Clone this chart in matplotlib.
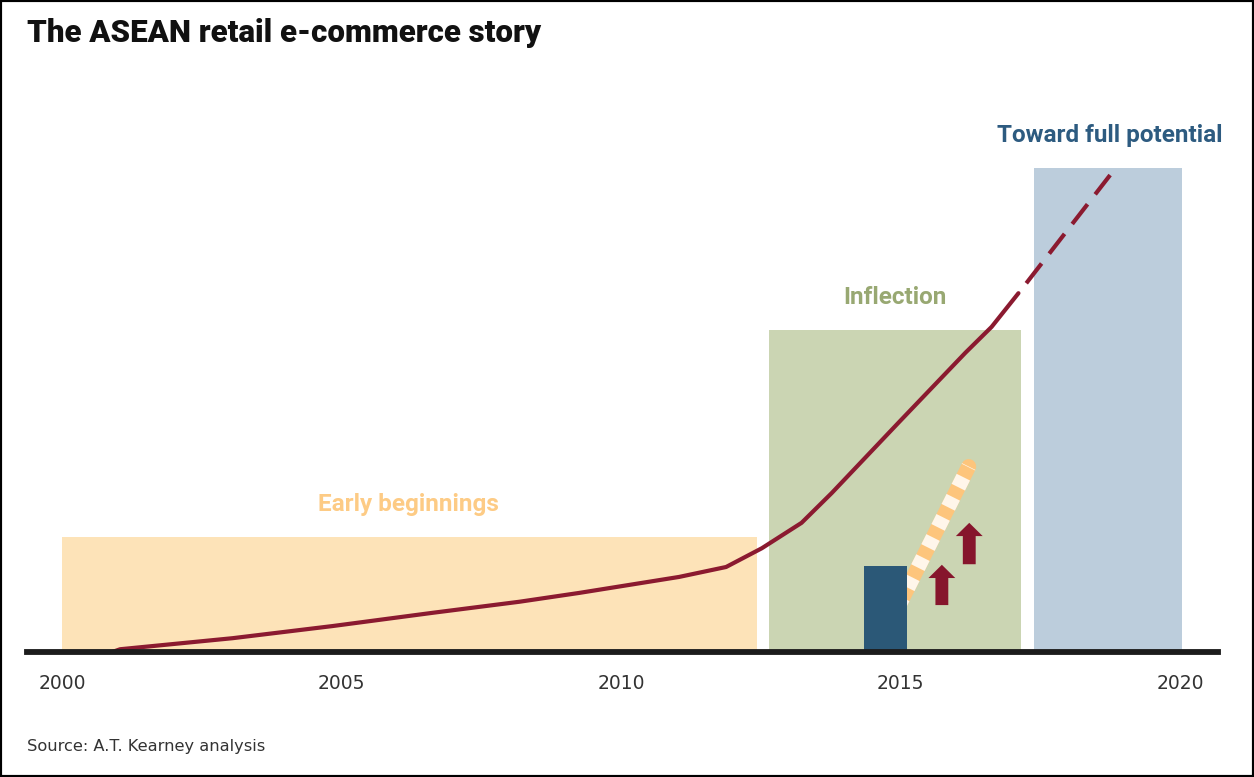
import matplotlib
matplotlib.use("Agg")
import matplotlib.pyplot as plt
from matplotlib.patches import FancyArrow, Rectangle

# phases of the story: start year, end year, box height (index units)
phase_names = ["Early beginnings", "Inflection", "Toward full potential"]
phase_start = [2000.0, 2012.65, 2017.39]
phase_end = [2012.43, 2017.16, 2020.04]
phase_height = [20.8, 58.3, 87.7]
phase_colors = ["#fde3b8", "#cbd5b3", "#bccddc"]
label_colors = ["#fdcb85", "#98a872", "#2d5b80"]
label_pos = [(2006.2, 26.8), (2014.9, 64.2), (2018.74, 93.6)]

# retail e-commerce curve
curve_years = [2000.9, 2001.04, 2003.05, 2004.84, 2006.63, 2008.18, 2009.25, 2011.04,
               2011.88, 2012.52, 2013.23, 2013.77, 2014.96, 2016.16, 2016.63, 2017.11]
curve_values = [0.0, 0.5, 2.5, 4.7, 7.1, 9.1, 10.7, 13.6,
                15.4, 18.8, 23.4, 28.8, 41.5, 54.2, 58.9, 65.0]
proj_years = [2017.25, 2018.75]
proj_values = [66.8, 86.4]

# 2015 bar, its projected growth and the two arrows
bar_year = [2014.35, 2015.12]
bar_value = 15.6
stripe_years = [2014.95, 2016.22]
stripe_values = [8.0, 33.6]
arrow_x = [2015.74, 2016.23]
arrow_bottom = [8.5, 15.9]
arrow_top = [15.8, 23.4]

tick_years = [2000, 2005, 2010, 2015, 2020]

W, H = 1254, 777
fig = plt.figure(figsize=(W / 100, H / 100), dpi=100, facecolor="white")
ax = fig.add_axes([27 / W, (H - 652) / H, (1218 - 27) / W, 552 / H])
ax.set_xlim(2000 - 35 / 55.9, 2000 + (1218 - 62) / 55.9)
ax.set_ylim(0, 100)
for s in ax.spines.values():
    s.set_visible(False)
ax.set_yticks([])

for x0, x1, h, c in zip(phase_start, phase_end, phase_height, phase_colors):
    ax.bar(x0, h, width=x1 - x0, align="edge", color=c, zorder=1)
for name, (lx, ly), c in zip(phase_names, label_pos, label_colors):
    ax.text(lx, ly, name, ha="center", va="center", fontsize=17.5, fontweight="bold",
            color=c, family="Roboto")

# striped projection bar
ax.plot(stripe_years, stripe_values, color="#fdc57c", lw=10.8, solid_capstyle="round", zorder=2)
ax.plot(stripe_years, stripe_values, color="#fff6ea", lw=10.8, dashes=(0.75, 0.75),
        dash_capstyle="butt", zorder=2.1)
ax.bar(bar_year[0], bar_value, width=bar_year[1] - bar_year[0], align="edge",
       color="#2b5877", zorder=3)

for x, b, t in zip(arrow_x, arrow_bottom, arrow_top):
    ax.add_patch(FancyArrow(x, b, 0, t - b, width=0.23, head_width=0.48, head_length=2.4,
                            length_includes_head=True, color="#86152c", lw=0, zorder=4))

ax.plot(curve_years, curve_values, color="#8b1a30", lw=3.0, solid_capstyle="round", zorder=5)
ax.plot(proj_years, proj_values, color="#8b1a30", lw=3.0, dashes=(6, 3), zorder=5)

ax.axhline(0, color="#1c1c1c", lw=4.2, zorder=6, clip_on=False)

ax.set_xticks(tick_years)
ax.set_xticklabels([str(y) for y in tick_years], fontsize=13.5, color="#333333")
ax.tick_params(axis="x", length=0, pad=16)

fig.text(27 / W, 1 - 33 / H, "The ASEAN retail e-commerce story", fontsize=22.5,
         fontweight="heavy", color="#111111", va="center", ha="left", family="Roboto")
fig.text(27 / W, 1 - 747 / H, "Source: A.T. Kearney analysis", fontsize=11.7,
         color="#333333", va="center", ha="left")

fig.patches.append(Rectangle((0, 0), 1, 1, transform=fig.transFigure, fill=False,
                             edgecolor="black", lw=3))

fig.savefig("out.png", dpi=100, facecolor="white")
